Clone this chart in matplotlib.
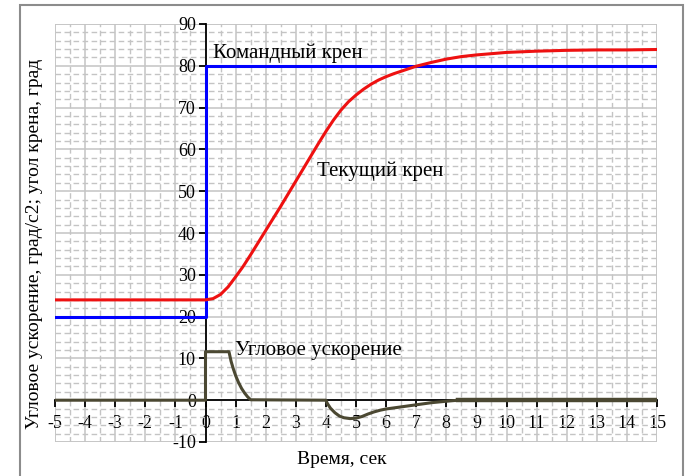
import matplotlib
matplotlib.use('Agg')
import matplotlib.pyplot as plt
from matplotlib.patches import Rectangle
from matplotlib.ticker import MultipleLocator

plt.rcParams['font.family'] = ['Liberation Serif', 'DejaVu Serif']
plt.rcParams['axes.unicode_minus'] = False

# Command bank angle (blue)
cmd_t = [-5, 0, 0, 15]
cmd_y = [20, 20, 80, 80]

# Current bank angle (red)
roll_t = [-5, 0, 0.25, 0.5, 0.75, 1.0, 1.25, 1.5, 1.75, 2.0, 2.25, 2.5, 2.75, 3.0, 3.25,
          3.5, 3.75, 4.0, 4.25, 4.5, 4.75, 5.0, 5.25, 5.5, 5.75, 6.0, 6.25, 6.5, 6.75,
          7.0, 7.5, 8.0, 8.5, 9.0, 9.5, 10, 11, 12, 13, 14, 15]
roll_y = [24, 24, 24.3, 25.3, 27.1, 29.5, 32.0, 34.8, 37.7, 40.6, 43.5, 46.4, 49.4, 52.4, 55.4,
          58.4, 61.4, 64.3, 67.0, 69.4, 71.4, 73.0, 74.4, 75.6, 76.6, 77.4, 78.1, 78.7, 79.3,
          79.9, 80.8, 81.6, 82.2, 82.6, 82.9, 83.2, 83.5, 83.7, 83.8, 83.8, 83.9]

# Angular acceleration (dark olive)
acc_t = [-5, 0, 0, 0.78, 0.85, 0.92, 1.0, 1.1, 1.2, 1.3, 1.4, 1.5, 4.0, 4.05, 4.15, 4.3,
         4.45, 4.6, 4.8, 5.0, 5.2, 5.4, 5.6, 5.8, 6.0, 6.5, 7.0, 7.5, 8.0, 8.4]
acc_y = [0, 0, 11.6, 11.6, 9.3, 7.6, 5.9, 4.2, 2.8, 1.7, 0.8, 0.1, 0, -0.8, -1.9, -3.0,
         -3.8, -4.2, -4.4, -4.3, -3.9, -3.3, -2.8, -2.4, -2.1, -1.6, -1.1, -0.6, -0.25, 0]
tail_t = [8.4, 15]
tail_y = [0, 0]

fig = plt.figure(figsize=(6.87, 4.76), dpi=100)
ax = fig.add_axes([55 / 687, 1 - 442 / 476, 602 / 687, 418 / 476])

# outer frame
fig.add_artist(Rectangle((20 / 687, -0.05), 663 / 687, 1.04, transform=fig.transFigure,
                         fill=False, edgecolor='#8c8c8c', linewidth=1.5))

ax.set_xlim(-5, 15)
ax.set_ylim(-10, 90)
ax.xaxis.set_major_locator(MultipleLocator(1))
ax.yaxis.set_major_locator(MultipleLocator(10))
ax.xaxis.set_minor_locator(MultipleLocator(0.5))
ax.yaxis.set_minor_locator(MultipleLocator(2))

ax.grid(which='major', color='#c4c4c4', linewidth=1.1, linestyle='-')
ax.grid(which='minor', color='#c4c4c4', linewidth=1.0, linestyle=(0, (4, 2.5)))
ax.set_axisbelow(True)

# axes through the origin
ax.spines['left'].set_position(('data', 0))
ax.spines['bottom'].set_position(('data', 0))
ax.spines['right'].set_visible(False)
ax.spines['top'].set_visible(False)
for s in ('left', 'bottom'):
    ax.spines[s].set_linewidth(1.3)
    ax.spines[s].set_zorder(1.5)

ax.tick_params(which='major', direction='out', length=5, width=1.3, labelsize=13)
ax.tick_params(which='minor', length=0)
ax.tick_params(axis='x', pad=6)
ax.tick_params(axis='y', pad=2)

# frame of the plotting area
ax.add_patch(Rectangle((0, 0), 1, 1, transform=ax.transAxes, fill=False,
                       edgecolor='#c4c4c4', linewidth=1.1, zorder=0.5))

ax.plot(cmd_t, cmd_y, color='#0000ff', linewidth=2.2, zorder=3)
ax.plot(roll_t, roll_y, color='#ee1111', linewidth=2.2, zorder=3)
ax.plot(acc_t, acc_y, color='#4b4832', linewidth=2.2, zorder=3)
ax.plot(tail_t, tail_y, color='#4b4832', linewidth=3.2, zorder=3)

ax.text(0.25, 83, 'Командный крен', fontsize=15, va='center', ha='left')
ax.text(3.72, 54.7, 'Текущий крен', fontsize=15, va='center', ha='left')
ax.text(0.98, 11.8, 'Угловое ускорение', fontsize=15, va='center', ha='left')

fig.text(342 / 687, 1 - 460 / 476, 'Время, сек', fontsize=14, ha='center', va='center')
fig.text(35 / 687, 1 - 244 / 476, 'Угловое ускорение, град/с2; угол крена, град',
         fontsize=14, ha='center', va='center', rotation=90)

fig.savefig('out.png', dpi=100)
